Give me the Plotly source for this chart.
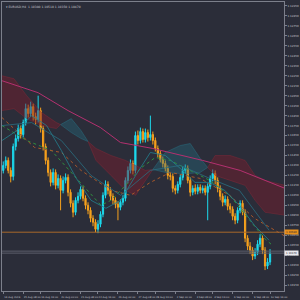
import plotly.graph_objects as go

# ---------------- data ----------------
symbol_title = "EURUSD,H4  1.10380 1.10510 1.10350 1.10470"
first_open = 1.1130
close = [1.1135, 1.1140, 1.1130, 1.1124, 1.1154, 1.1162, 1.1172, 1.1166, 1.1178, 1.1192,
         1.1187, 1.1194, 1.1184, 1.1181, 1.1190, 1.1172, 1.1154, 1.1140, 1.1128, 1.1118,
         1.1128, 1.1115, 1.1122, 1.1110, 1.1120, 1.1123, 1.1108, 1.1097, 1.1088, 1.1100,
         1.1104, 1.1111, 1.1102, 1.1095, 1.1090, 1.1082, 1.1078, 1.1071, 1.1076, 1.1086,
         1.1105, 1.1116, 1.1110, 1.1104, 1.1100, 1.1096, 1.1093, 1.1098, 1.1102, 1.1120,
         1.1130, 1.1137, 1.1130, 1.1165, 1.1160, 1.1169, 1.1161, 1.1168, 1.1163, 1.1166,
         1.1160, 1.1152, 1.1147, 1.1141, 1.1137, 1.1132, 1.1125, 1.1124, 1.1112, 1.1110,
         1.1116, 1.1123, 1.1130, 1.1132, 1.1120, 1.1108, 1.1112, 1.1109, 1.1113, 1.1110,
         1.1112, 1.1108, 1.1114, 1.1122, 1.1127, 1.1120, 1.1112, 1.1104, 1.1098, 1.1101,
         1.1094, 1.1091, 1.1084, 1.1080, 1.1090, 1.1097, 1.1088, 1.1062, 1.1054, 1.1050,
         1.1044, 1.1048, 1.1056, 1.1062, 1.1050, 1.1034, 1.1038, 1.1047]
high = [1.1139, 1.1144, 1.1143, 1.1133, 1.1157, 1.1166, 1.1176, 1.1175, 1.1181, 1.1197,
        1.1196, 1.1199, 1.1197, 1.1188, 1.1205, 1.1193, 1.1175, 1.1157, 1.1143, 1.1131,
        1.1132, 1.1131, 1.1126, 1.1125, 1.1124, 1.1127, 1.1126, 1.1111, 1.1100, 1.1103,
        1.1108, 1.1114, 1.1114, 1.1105, 1.1098, 1.1093, 1.1085, 1.1081, 1.1080, 1.1089,
        1.1108, 1.1120, 1.1119, 1.1113, 1.1107, 1.1103, 1.1099, 1.1101, 1.1105, 1.1123,
        1.1134, 1.1141, 1.1140, 1.1169, 1.1170, 1.1173, 1.1172, 1.1172, 1.1171, 1.1185,
        1.1169, 1.1163, 1.1155, 1.1150, 1.1144, 1.1140, 1.1135, 1.1128, 1.1127, 1.1115,
        1.1119, 1.1126, 1.1134, 1.1136, 1.1135, 1.1123, 1.1115, 1.1116, 1.1116, 1.1116,
        1.1115, 1.1115, 1.1117, 1.1125, 1.1131, 1.1130, 1.1123, 1.1115, 1.1107, 1.1105,
        1.1104, 1.1097, 1.1094, 1.1087, 1.1093, 1.1100, 1.1100, 1.1091, 1.1065, 1.1058,
        1.1053, 1.1052, 1.1060, 1.1066, 1.1065, 1.1053, 1.1042, 1.1051]
low = [1.1127, 1.1132, 1.1127, 1.1118, 1.1120, 1.1150, 1.1159, 1.1162, 1.1163, 1.1175,
       1.1183, 1.1184, 1.1180, 1.1176, 1.1178, 1.1168, 1.1150, 1.1136, 1.1124, 1.1114,
       1.1115, 1.1111, 1.1112, 1.1090, 1.1107, 1.1117, 1.1104, 1.1093, 1.1083, 1.1085,
       1.1097, 1.1101, 1.1099, 1.1091, 1.1086, 1.1078, 1.1074, 1.1068, 1.1067, 1.1073,
       1.1083, 1.1102, 1.1106, 1.1100, 1.1096, 1.1092, 1.1080, 1.1090, 1.1095, 1.1099,
       1.1117, 1.1127, 1.1126, 1.1127, 1.1156, 1.1157, 1.1158, 1.1158, 1.1159, 1.1160,
       1.1156, 1.1149, 1.1143, 1.1138, 1.1133, 1.1129, 1.1121, 1.1120, 1.1108, 1.1106,
       1.1107, 1.1113, 1.1120, 1.1127, 1.1117, 1.1104, 1.1105, 1.1106, 1.1106, 1.1107,
       1.1107, 1.1105, 1.1080, 1.1111, 1.1119, 1.1116, 1.1108, 1.1100, 1.1094, 1.1095,
       1.1090, 1.1087, 1.1080, 1.1076, 1.1077, 1.1087, 1.1085, 1.1058, 1.1050, 1.1046,
       1.1040, 1.1041, 1.1045, 1.1053, 1.1046, 1.1030, 1.1031, 1.1035]

# Ichimoku cloud (Senkou span A / B) sampled at bar positions
cloud_x = [-0.5, 4.3, 9.4, 15.4, 21.3, 23.0, 27.3, 31.2, 34.0, 37.2, 43.2, 49.1, 53.1, 57.0,
           60.0, 65, 71, 75, 79, 82.0, 85, 91, 97, 101, 105, 113]
span_a = [1.1190, 1.1192, 1.1182, 1.1175, 1.1172, 1.1176, 1.1182, 1.1170, 1.1159, 1.1140,
          1.1125, 1.1110, 1.1105, 1.1120, 1.1131, 1.1148, 1.1155, 1.1157, 1.1142, 1.1133,
          1.1125, 1.1120, 1.1115, 1.1100, 1.1088, 1.1085]
span_b = [1.1225, 1.1222, 1.1205, 1.1188, 1.1178, 1.1176, 1.1168, 1.1162, 1.1159, 1.1152,
          1.1145, 1.1140, 1.1135, 1.1130, 1.1131, 1.1128, 1.1127, 1.1127, 1.1128, 1.1133,
          1.1145, 1.1145, 1.1140, 1.1125, 1.1120, 1.1115]

ma_slow_x = [-0.5, 14, 26, 39, 47, 60, 80, 95, 107, 113]
ma_slow = [1.1220, 1.1208, 1.1190, 1.1173, 1.1158, 1.1152, 1.1140, 1.1130, 1.1118, 1.1112]

ma_green_x = [-0.5, 9.4, 19.3, 29.3, 39.2, 43.2, 49.1, 55, 61, 67, 74.9, 82.8, 90.8, 98.7, 104.7, 107.4]
ma_green = [1.1175, 1.1160, 1.1150, 1.1122, 1.1095, 1.1100, 1.1115, 1.1132, 1.1143, 1.1140,
            1.1130, 1.1120, 1.1105, 1.1080, 1.1062, 1.1056]

ma_orange_x = [-0.5, 12.6, 23.3, 31.2, 43.2, 51.1, 59, 67, 78.9, 90.8, 100.7, 113]
ma_orange = [1.1183, 1.1153, 1.1148, 1.1130, 1.1110, 1.1105, 1.1118, 1.1128, 1.1122, 1.1105,
             1.1082, 1.1064]

tenkan_x = [-0.5, 5.5, 11.4, 17.4, 23.3, 29.3, 35.2, 41.2, 47.1, 53.1, 59, 65, 71, 76.9,
            82.8, 88.8, 94.7, 100.7, 106.6]
tenkan = [1.1160, 1.1170, 1.1185, 1.1175, 1.1150, 1.1122, 1.1100, 1.1092, 1.1100, 1.1125,
          1.1148, 1.1145, 1.1132, 1.1118, 1.1118, 1.1110, 1.1095, 1.1075, 1.1060]

kijun_x = [-0.5, 11.4, 23.3, 35.2, 47.1, 59, 71, 82.8, 94.7, 106.6]
kijun = [1.1175, 1.1178, 1.1160, 1.1125, 1.1105, 1.1130, 1.1135, 1.1122, 1.1110, 1.1070]

level_price = 1.1068
bid_price = 1.1047
ask_price = 1.1049

time_tick_bars = [0, 8, 15, 23, 31, 38, 46, 54, 61, 69, 77, 84, 92, 100, 107]
time_tick_text = ["14 Aug 2019", "15 Aug 08:00", "16 Aug 16:00", "20 Aug 00:00", "21 Aug 08:00",
                  "22 Aug 16:00", "26 Aug 00:00", "27 Aug 08:00", "28 Aug 16:00", "2 Sep 00:00",
                  "3 Sep 08:00", "4 Sep 16:00", "6 Sep 00:00", "9 Sep 08:00", "10 Sep 16:00"]

# ---------------- styles ----------------
BG = "#2b2d39"
CYAN = "#1cd9ec"
ORANGE = "#f6a11d"
AXIS = "#7c7f8b"
TXT = "#c9cad2"

bars = list(range(len(close)))
open_ = [first_open] + close[:-1]

fig = go.Figure()

# cloud segments
segs = []
cur = [0]
for i in range(1, len(cloud_x)):
    cur.append(i)
    if span_a[i] == span_b[i] and i < len(cloud_x) - 1:
        segs.append(cur)
        cur = [i]
segs.append(cur)
for seg in segs:
    diff = [span_b[k] - span_a[k] for k in seg if span_b[k] != span_a[k]]
    red = diff and diff[0] > 0
    fillc = "rgba(125,28,45,0.45)" if red else "rgba(35,115,135,0.35)"
    linec = "rgba(140,40,55,0.7)" if red else "rgba(40,120,140,0.7)"
    xs = [cloud_x[k] for k in seg]
    fig.add_trace(go.Scatter(x=xs, y=[span_b[k] for k in seg], mode="lines",
                             line=dict(color=linec, width=0.6), hoverinfo="skip", showlegend=False))
    fig.add_trace(go.Scatter(x=xs, y=[span_a[k] for k in seg], mode="lines", fill="tonexty",
                             fillcolor=fillc, line=dict(color=linec, width=0.6),
                             hoverinfo="skip", showlegend=False))

fig.add_trace(go.Scatter(x=ma_slow_x, y=ma_slow, mode="lines",
                         line=dict(color="#b3306f", width=1), hoverinfo="skip", showlegend=False))
fig.add_trace(go.Scatter(x=ma_green_x, y=ma_green, mode="lines",
                         line=dict(color="#2f8f3f", width=1, dash="dot"), hoverinfo="skip", showlegend=False))
fig.add_trace(go.Scatter(x=ma_orange_x, y=ma_orange, mode="lines",
                         line=dict(color="#a8582a", width=1, dash="dot"), hoverinfo="skip", showlegend=False))
fig.add_trace(go.Scatter(x=tenkan_x, y=tenkan, mode="lines",
                         line=dict(color="#23808f", width=0.8), hoverinfo="skip", showlegend=False))
fig.add_trace(go.Scatter(x=kijun_x, y=kijun, mode="lines",
                         line=dict(color="#2a6f80", width=0.8), hoverinfo="skip", showlegend=False))

fig.add_trace(go.Candlestick(
    x=bars, open=open_, high=high, low=low, close=close,
    increasing=dict(line=dict(color=CYAN, width=1), fillcolor=CYAN),
    decreasing=dict(line=dict(color=ORANGE, width=1), fillcolor=ORANGE),
    whiskerwidth=0, hoverinfo="skip", showlegend=False))

# horizontal levels
fig.add_shape(type="line", xref="paper", x0=0, x1=1, yref="y", y0=level_price, y1=level_price,
              line=dict(color="#a8682a", width=1))
for p in (bid_price, ask_price):
    fig.add_shape(type="line", xref="paper", x0=0, x1=1, yref="y", y0=p, y1=p,
                  line=dict(color="#5b5e6b", width=1))

fig.add_annotation(xref="paper", x=1, xanchor="left", yref="y", y=level_price,
                   text=f"{level_price:.5f}", showarrow=False, bgcolor="#e8901c",
                   font=dict(size=2.6, color="#2b2d39", family="DejaVu Sans"),
                   width=13, height=4, borderpad=0)
fig.add_annotation(xref="paper", x=1, xanchor="left", yref="y", y=bid_price,
                   text=f"{bid_price:.5f}", showarrow=False, bgcolor="#e8e8ec",
                   font=dict(size=2.6, color="#2b2d39", family="DejaVu Sans"),
                   width=13, height=4, borderpad=0)

fig.add_annotation(xref="paper", yref="paper", x=0.008, y=0.995, xanchor="left", yanchor="top",
                   text="▾ " + symbol_title, showarrow=False,
                   font=dict(size=3, color=TXT, family="DejaVu Sans"))

fig.update_layout(
    width=300, height=300,
    margin=dict(l=1, r=14, t=1, b=9),
    paper_bgcolor=BG, plot_bgcolor=BG,
    showlegend=False,
    xaxis=dict(range=[-0.5, 112.6], showgrid=False, zeroline=False, showline=True, mirror=True,
               linecolor=AXIS, linewidth=1, tickmode="array", tickvals=time_tick_bars,
               ticktext=time_tick_text, ticks="outside", ticklen=2, tickcolor=AXIS, tickangle=0,
               tickfont=dict(size=2.5, color=TXT, family="DejaVu Sans"), ticklabelshift=9,
               ticklabelstandoff=1, rangeslider=dict(visible=False), fixedrange=True),
    yaxis=dict(range=[1.1009, 1.1299], side="right", showgrid=False, zeroline=False,
               showline=True, mirror=True, linecolor=AXIS, linewidth=1,
               tick0=1.1295, dtick=0.001, tickformat=".5f", ticks="outside", ticklen=2,
               tickcolor=AXIS, tickfont=dict(size=2.7, color=TXT, family="DejaVu Sans"),
               ticklabelstandoff=0, fixedrange=True),
)

fig.write_html("out.html")
